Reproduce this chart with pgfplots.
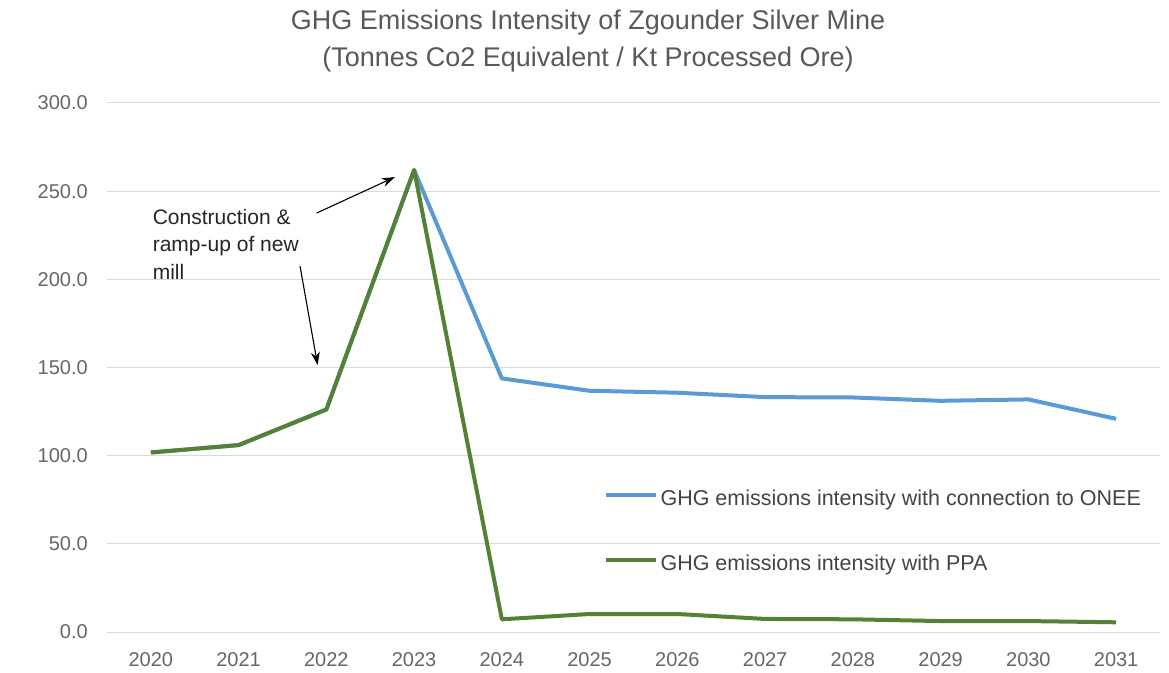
\documentclass[border=0pt]{standalone}
\usepackage{pgfplots}
\pgfplotsset{compat=1.18}
\usepackage{fontspec}
\setmainfont{Liberation Sans}
\usetikzlibrary{arrows.meta}
\definecolor{onee}{RGB}{91,155,213}
\definecolor{ppa}{RGB}{84,130,53}
\definecolor{gridc}{RGB}{217,217,217}
\definecolor{titlec}{RGB}{89,89,89}
\definecolor{tickc}{RGB}{102,102,102}
\definecolor{legc}{RGB}{68,68,68}
\begin{document}
\begin{tikzpicture}
\begin{axis}[
  name=ax,
  scale only axis,
  width=1053pt, height=529pt,
  xmin=2019.5, xmax=2031.5,
  ymin=0, ymax=300,
  xtick={2020,2021,2022,2023,2024,2025,2026,2027,2028,2029,2030,2031},
  ytick={0,50,100,150,200,250,300},
  ymajorgrids,
  grid style={gridc, line width=1pt},
  axis line style={draw=none},
  tick style={draw=none},
  /pgf/number format/assume math mode=true,
  xticklabel style={/pgf/number format/1000 sep={}, font=\fontsize{20}{24}\selectfont, text=tickc, anchor=north, inner sep=0pt, yshift=-20pt},
  yticklabel style={/pgf/number format/.cd, fixed, fixed zerofill, precision=1, /tikz/.cd, font=\fontsize{20}{24}\selectfont, text=tickc, anchor=east, inner sep=0pt, xshift=-19pt},
  legend image code/.code={\draw[#1] (0pt,7.5pt) -- (50pt,7.5pt);},
  legend cell align=left,
  legend style={draw=none, fill=none, at={(0.4685,0.267)}, anchor=north west,
    font=\fontsize{21.5}{25}\selectfont, text=legc,
    nodes={inner sep=0pt, text height=11pt, text depth=4pt},
    row sep=48pt, column sep=3pt},
]
\addplot[onee, line width=4pt, line join=round] coordinates {
 (2020,101.8) (2021,106.0) (2022,126.2) (2023,262.0) (2024,143.8) (2025,136.8)
 (2026,135.7) (2027,133.2) (2028,133.0) (2029,131.1) (2030,131.9) (2031,120.9)};
\addlegendentry{GHG emissions intensity with connection to ONEE}
\addplot[ppa, line width=4pt, line join=round] coordinates {
 (2020,101.8) (2021,106.0) (2022,126.2) (2023,262.0) (2024,7.2) (2025,10.2)
 (2026,10.2) (2027,7.4) (2028,7.2) (2029,6.2) (2030,6.2) (2031,5.5)};
\addlegendentry{GHG emissions intensity with PPA}
\node[anchor=north west, align=left, inner sep=0pt, font=\fontsize{21}{27.5}\selectfont, text=black!85]
  at (axis cs:2020.02,240) {Construction \&\\ramp-up of new\\mill};
\draw[-{Stealth[length=13pt,width=9pt]}, line width=1.1pt, black] (axis cs:2021.89,237.6) -- (axis cs:2022.78,258.0);
\draw[-{Stealth[length=13pt,width=9pt]}, line width=1.1pt, black] (axis cs:2021.70,207.5) -- (axis cs:2021.90,151.4);
\end{axis}
\node[font=\fontsize{27}{32}\selectfont, text=titlec] at ([xshift=481pt,yshift=609pt]ax.south west) {GHG Emissions Intensity of Zgounder Silver Mine};
\node[font=\fontsize{27}{32}\selectfont, text=titlec] at ([xshift=481pt,yshift=572pt]ax.south west) {(Tonnes Co2 Equivalent / Kt Processed Ore)};
\pgfresetboundingbox
\path ([xshift=-107pt,yshift=-40pt]ax.south west) rectangle ++(1169pt,672pt);
\end{tikzpicture}
\end{document}
